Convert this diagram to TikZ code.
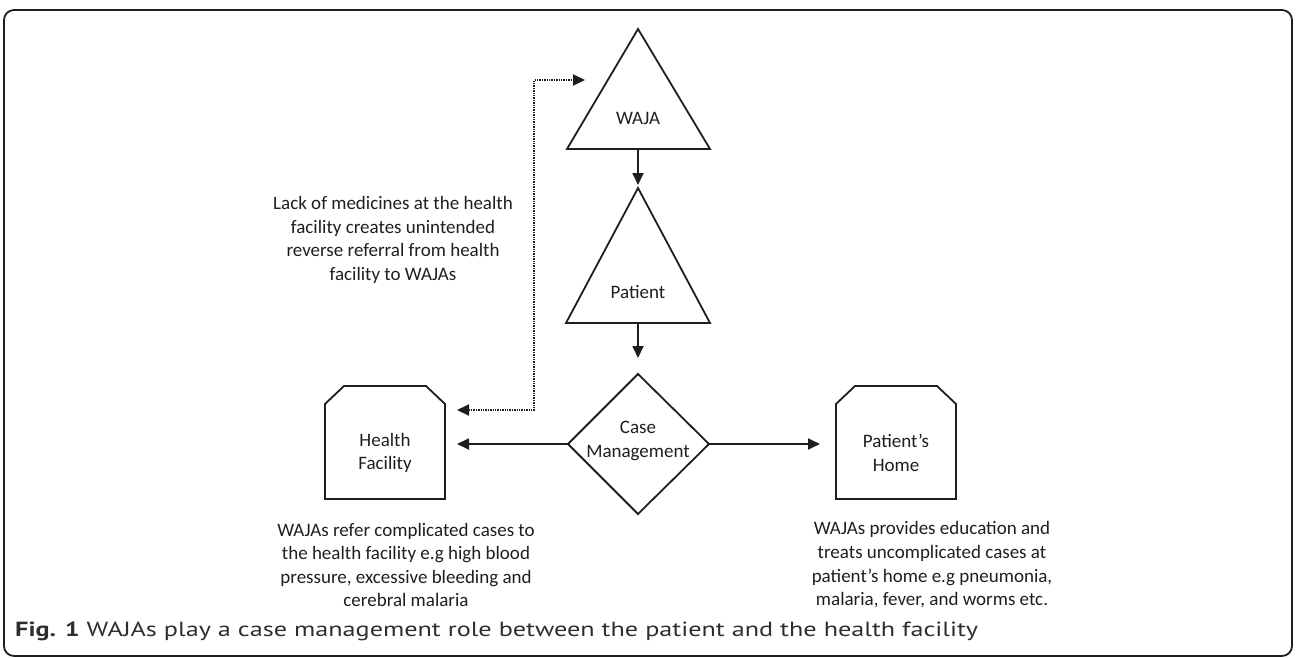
\documentclass[tikz,border=0pt]{standalone}
\usepackage{fontspec}
\setmainfont{Carlito}
\newfontfamily\capfont{PT Sans}
\usetikzlibrary{arrows.meta}
\definecolor{ink}{HTML}{1E1E1E}
\definecolor{capink}{HTML}{2E2E2E}
\begin{document}
\begin{tikzpicture}[x=1pt,y=-1pt,
  shapeline/.style={draw=ink,line width=1.8pt,line join=miter},
  conn/.style={draw=ink,line width=1.8pt,-{Triangle[length=12pt,width=11pt]}},
  dotconn/.style={draw=ink,line width=2pt,dash pattern=on 1.4pt off 1pt,{Triangle[length=12pt,width=11pt]}-{Triangle[length=12pt,width=11pt]}},
  lbl/.style={font=\fontsize{19}{23.6}\selectfont,text=ink,align=center,inner sep=0pt},
]
\useasboundingbox (0,0) rectangle (1296,657);
% frame
\draw[ink,line width=1.8pt,rounded corners=10pt] (4,10) rectangle (1292,656);

% WAJA triangle
\draw[shapeline] (638,29) -- (710,149) -- (567,149) -- cycle;
\node[lbl] (waja) at (638,118) {WAJA};
\coordinate (wajaB) at (638,149);
\coordinate (wajaL) at (585,80);

% Patient triangle
\draw[shapeline] (638,188) -- (710,323) -- (566,323) -- cycle;
\coordinate (patT) at (638,185);
\coordinate (patB) at (638,323);
\node[lbl] (patient) at (638,292) {Patient};

% Diamond
\draw[shapeline] (638,374) -- (709,444) -- (638,514) -- (568,444) -- cycle;
\coordinate (cmT) at (638,358);
\coordinate (cmL) at (568,444);
\coordinate (cmR) at (709,444);
\node[lbl] (cm) at (638,441) {Case\\Management};

% Health Facility
\draw[shapeline] (325,499) -- (325,404) -- (344,386) -- (426,386) -- (445,404) -- (445,499) -- cycle;
\node[lbl] (hf) at (385,453) {Health\\Facility};
\coordinate (hfR) at (457,444);
\coordinate (hfD) at (457,410);

% Patient's Home
\draw[shapeline] (836,499) -- (836,404) -- (855,386) -- (937,386) -- (956,404) -- (956,499) -- cycle;
\node[lbl] (ph) at (896,453) {Patient’s\\Home};
\coordinate (phL) at (820,444);

% connectors
\draw[conn] (wajaB) -- (patT);
\draw[conn] (patB) -- (cmT);
\draw[conn] (cmL) -- (hfR);
\draw[conn] (cmR) -- (phL);
\draw[dotconn] (hfD) -- (534,410) -- (534,80) -- (wajaL);

% texts
\node[lbl] (note1) at (393,240) {Lack of medicines at the health\\facility creates unintended\\reverse referral from health\\facility to WAJAs};
\node[lbl] (note2) at (406,565) {WAJAs refer complicated cases to\\the health facility e.g high blood\\pressure, excessive bleeding and\\cerebral malaria};
\node[lbl] (note3) at (932,565) {WAJAs provides education and\\treats uncomplicated cases at\\patient’s home e.g pneumonia,\\malaria, fever, and worms etc.};

% caption
\node[anchor=west,inner sep=0pt,text=capink] (cap) at (15,631) {\resizebox{963pt}{\height}{\capfont\fontsize{20.5}{24}\selectfont\textbf{Fig. 1} WAJAs play a case management role between the patient and the health facility}};
\end{tikzpicture}
\end{document}
